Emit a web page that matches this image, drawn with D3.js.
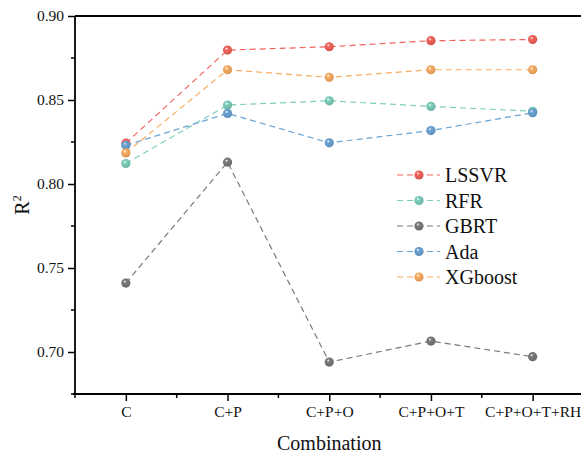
<!DOCTYPE html>
<html>
<head>
<meta charset="utf-8">
<script src="https://cdn.jsdelivr.net/npm/d3@7"></script>
<style>
  html, body { margin: 0; padding: 0; background: #fff; }
  svg { display: block; }
  svg text { font-family: 'Liberation Serif', 'DejaVu Serif', 'Times New Roman', Times, serif !important; }
</style>
</head>
<body>
<svg id="chart" width="581" height="454"></svg>
<script>
// data
const categories = ['C', 'C+P', 'C+P+O', 'C+P+O+T', 'C+P+O+T+RH']
const seriesNames = ['LSSVR', 'RFR', 'GBRT', 'Ada', 'XGboost']
const lssvr = [0.8243, 0.8797, 0.8817, 0.8853, 0.8860]
const rfr = [0.8122, 0.8470, 0.8495, 0.8462, 0.8433]
const gbrt = [0.7410, 0.8130, 0.6940, 0.7065, 0.6972]
const ada = [0.8230, 0.8420, 0.8245, 0.8318, 0.8424]
const xgboost = [0.8185, 0.8680, 0.8635, 0.8680, 0.8680]
const yTicks = [0.70, 0.75, 0.80, 0.85, 0.90]
const yMinorTicks = [0.675, 0.725, 0.775, 0.825, 0.875]

const colors = ['#f2635b', '#7dcfbc', '#7a7a7a', '#6aa3d4', '#f9ad62']
const allSeries = [lssvr, rfr, gbrt, ada, xgboost]

const svg = d3.select('#chart')
const plot = { left: 75, right: 583.5, top: 16, bottom: 394 }

// x: index scale, half a step of padding each side
const x = d3.scaleLinear().domain([-0.5, categories.length - 0.5]).range([plot.left, plot.right])
const y = d3.scaleLinear().domain([0.675, 0.90]).range([plot.bottom, plot.top])

// gradients for the ball markers
const defs = svg.append('defs')
colors.forEach((c, i) => {
  const g = defs.append('radialGradient')
    .attr('id', `ball${i}`)
    .attr('cx', '45%').attr('cy', '42%').attr('r', '60%')
    .attr('fx', '38%').attr('fy', '32%')
  g.append('stop').attr('offset', '0%').attr('stop-color', '#ffffff').attr('stop-opacity', 0.85)
  g.append('stop').attr('offset', '28%').attr('stop-color', c)
  g.append('stop').attr('offset', '100%').attr('stop-color', d3.color(c).darker(0.4))
})

// axes
const yAxis = d3.axisLeft(y).tickValues(yTicks).tickFormat(d3.format('.2f')).tickSize(7).tickPadding(4)
const gy = svg.append('g').attr('transform', `translate(${plot.left},0)`).call(yAxis)
gy.selectAll('.tick line').attr('stroke-width', 1.5)

svg.append('g').selectAll('line').data(yMinorTicks).join('line')
  .attr('x1', plot.left - 4).attr('x2', plot.left)
  .attr('y1', d => y(d)).attr('y2', d => y(d))
  .attr('stroke', '#000').attr('stroke-width', 1.5)

const xAxis = d3.axisBottom(x).tickValues(d3.range(categories.length))
  .tickFormat(i => categories[i]).tickSize(7).tickPadding(5)
const gx = svg.append('g').attr('transform', `translate(0,${plot.bottom})`).call(xAxis)
gx.selectAll('.tick line').attr('stroke-width', 1.5)

// minor x ticks at half steps
svg.append('g').selectAll('line').data(d3.range(-0.5, categories.length, 1)).join('line')
  .attr('x1', d => x(d)).attr('x2', d => x(d))
  .attr('y1', plot.bottom).attr('y2', plot.bottom + 4)
  .attr('stroke', '#000').attr('stroke-width', 1.5)

svg.selectAll('.domain').remove()
svg.selectAll('.tick text').attr('font-size', 15.5).attr('fill', '#111')

// frame: left, bottom, top
svg.append('line').attr('x1', plot.left).attr('x2', plot.left).attr('y1', plot.top).attr('y2', plot.bottom)
  .attr('stroke', '#000').attr('stroke-width', 1.8)
svg.append('line').attr('x1', plot.left - 2).attr('x2', plot.right).attr('y1', plot.bottom).attr('y2', plot.bottom)
  .attr('stroke', '#000').attr('stroke-width', 1.8)
svg.append('line').attr('x1', plot.left).attr('x2', plot.right).attr('y1', plot.top).attr('y2', plot.top)
  .attr('stroke', '#000').attr('stroke-width', 1.8)

// lines and markers
const line = d3.line().x((d, i) => x(i)).y(d => y(d))
allSeries.forEach((vals, k) => {
  svg.append('path')
    .datum(vals)
    .attr('d', line)
    .attr('fill', 'none')
    .attr('stroke', colors[k])
    .attr('stroke-width', 1.2)
    .attr('stroke-dasharray', '6,4')
})
allSeries.forEach((vals, k) => {
  svg.append('g').selectAll('circle').data(vals).join('circle')
    .attr('cx', (d, i) => x(i))
    .attr('cy', d => y(d))
    .attr('r', 4.6)
    .attr('fill', `url(#ball${k})`)
})

// legend
const legend = svg.append('g').attr('transform', 'translate(397,175)')
seriesNames.forEach((name, k) => {
  const row = legend.append('g').attr('transform', `translate(0,${k * 25.5})`)
  row.append('line').attr('x1', 0).attr('x2', 43).attr('y1', 0).attr('y2', 0)
    .attr('stroke', colors[k]).attr('stroke-width', 1.2).attr('stroke-dasharray', '6,4')
  row.append('circle').attr('cx', 22).attr('cy', 0).attr('r', 4.6).attr('fill', `url(#ball${k})`)
  row.append('text').attr('x', 48).attr('y', 7).attr('font-size', 20).attr('fill', '#111').text(name)
})

// axis titles
svg.append('text')
  .attr('x', (plot.left + plot.right) / 2).attr('y', 450)
  .attr('text-anchor', 'middle').attr('font-size', 20).attr('fill', '#111')
  .text('Combination')

const yt = svg.append('text')
  .attr('transform', `translate(29,${(plot.top + plot.bottom) / 2}) rotate(-90)`)
  .attr('text-anchor', 'middle').attr('font-size', 20).attr('fill', '#111')
yt.append('tspan').text('R')
yt.append('tspan').attr('font-size', 12).attr('dy', -8).text('2')
</script>
</body>
</html>
